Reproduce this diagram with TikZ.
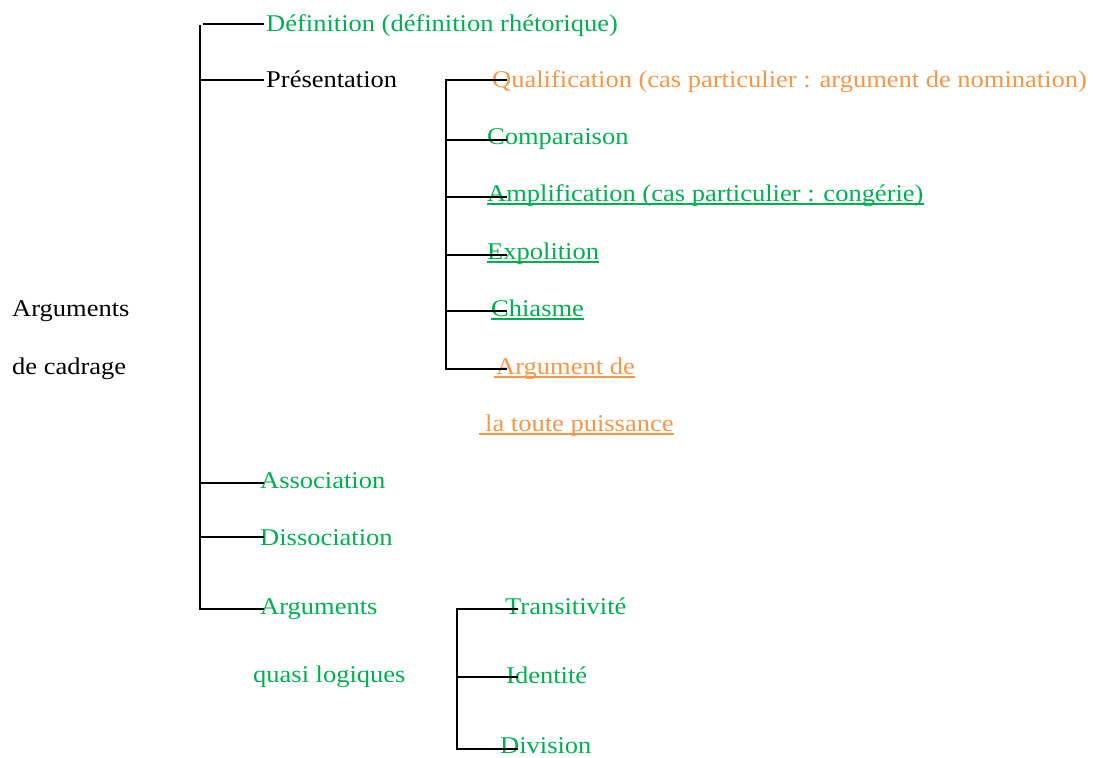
\documentclass[tikz,border=0pt]{standalone}
\usepackage{fontspec}
\setmainfont{Liberation Serif}[FakeStretch=1.104]
\definecolor{wgreen}{HTML}{00B050}
\definecolor{worange}{HTML}{F79646}
\tikzset{
  txt/.style={anchor=base west, inner sep=0pt, font=\fontsize{24}{28}\selectfont},
  gtxt/.style={txt, text=wgreen},
  otxt/.style={txt, text=worange},
  branch/.style={draw=black, line width=1.9pt},
  uline/.style={line width=1.8pt}
}
\begin{document}
\begin{tikzpicture}[x=1pt,y=-1pt]
\useasboundingbox (0,0) rectangle (1093,758);
% texts
\node[txt] (ac1) at (12,316) {Arguments};
\node[txt] (ac2) at (12,374) {de cadrage};
\node[gtxt] (def) at (266,31) {Définition (définition rhétorique)};
\node[txt] (pres) at (266,87) {Présentation};
\node[otxt] (qual) at (492,87) {Qualification (cas particulier : argument de nomination)};
\node[gtxt] (comp) at (487,144) {Comparaison};
\node[gtxt] (ampl) at (487,201) {Amplification (cas particulier : congérie)};
\node[gtxt] (expo) at (487,259) {Expolition};
\node[gtxt] (chia) at (491,316) {Chiasme};
\node[otxt] (arg1) at (496,374) {Argument de};
\node[otxt] (arg2) at (485,431) {la toute puissance};
\node[gtxt] (asso) at (260,488) {Association};
\node[gtxt] (diss) at (260,545) {Dissociation};
\node[gtxt] (aq1) at (260,614) {Arguments};
\node[gtxt] (aq2) at (253,682) {quasi logiques};
\node[gtxt] (tran) at (505,614) {Transitivité};
\node[gtxt] (iden) at (506,683) {Identité};
\node[gtxt] (divi) at (500,753) {Division};
% underlines
\draw[uline, wgreen] ([yshift=-3pt]ampl.base west) -- ([yshift=-3pt]ampl.base east);
\draw[uline, wgreen] ([yshift=-3pt]expo.base west) -- ([yshift=-3pt]expo.base east);
\draw[uline, wgreen] ([yshift=-3pt]chia.base west) -- ([yshift=-3pt]chia.base east);
\draw[uline, worange] ([xshift=-2pt,yshift=-3pt]arg1.base west) -- ([yshift=-3pt]arg1.base east);
\draw[uline, worange] ([xshift=-6pt,yshift=-3pt]arg2.base west) -- ([yshift=-3pt]arg2.base east);
% tree 1
\coordinate (s1top) at (200,25);
\coordinate (s1bot) at (200,609);
\coordinate (b1a) at (203,24);  \coordinate (e1a) at (264,24);
\coordinate (b1b) at (200,80);  \coordinate (e1b) at (264,80);
\coordinate (b1c) at (200,483); \coordinate (e1c) at (264,483);
\coordinate (b1d) at (200,537); \coordinate (e1d) at (264,537);
\coordinate (e1e) at (264,609);
\draw[branch] (s1top) -- (s1bot) -- (e1e);
\draw[branch] (b1a) -- (e1a);
\draw[branch] (b1b) -- (e1b);
\draw[branch] (b1c) -- (e1c);
\draw[branch] (b1d) -- (e1d);
% tree 2
\coordinate (s2top) at (446,80);
\coordinate (s2bot) at (446,369);
\coordinate (e2a) at (507,80);
\coordinate (b2b) at (446,140); \coordinate (e2b) at (507,140);
\coordinate (b2c) at (446,197); \coordinate (e2c) at (507,197);
\coordinate (b2d) at (446,255); \coordinate (e2d) at (507,255);
\coordinate (b2e) at (446,311); \coordinate (e2e) at (507,311);
\coordinate (e2f) at (507,369);
\draw[branch] (e2a) -- (s2top) -- (s2bot) -- (e2f);
\draw[branch] (b2b) -- (e2b);
\draw[branch] (b2c) -- (e2c);
\draw[branch] (b2d) -- (e2d);
\draw[branch] (b2e) -- (e2e);
% tree 3
\coordinate (s3top) at (457,609);
\coordinate (s3bot) at (457,749);
\coordinate (e3a) at (518,609);
\coordinate (b3b) at (457,677); \coordinate (e3b) at (518,677);
\coordinate (e3c) at (518,749);
\draw[branch] (e3a) -- (s3top) -- (s3bot) -- (e3c);
\draw[branch] (b3b) -- (e3b);
\end{tikzpicture}
\end{document}
